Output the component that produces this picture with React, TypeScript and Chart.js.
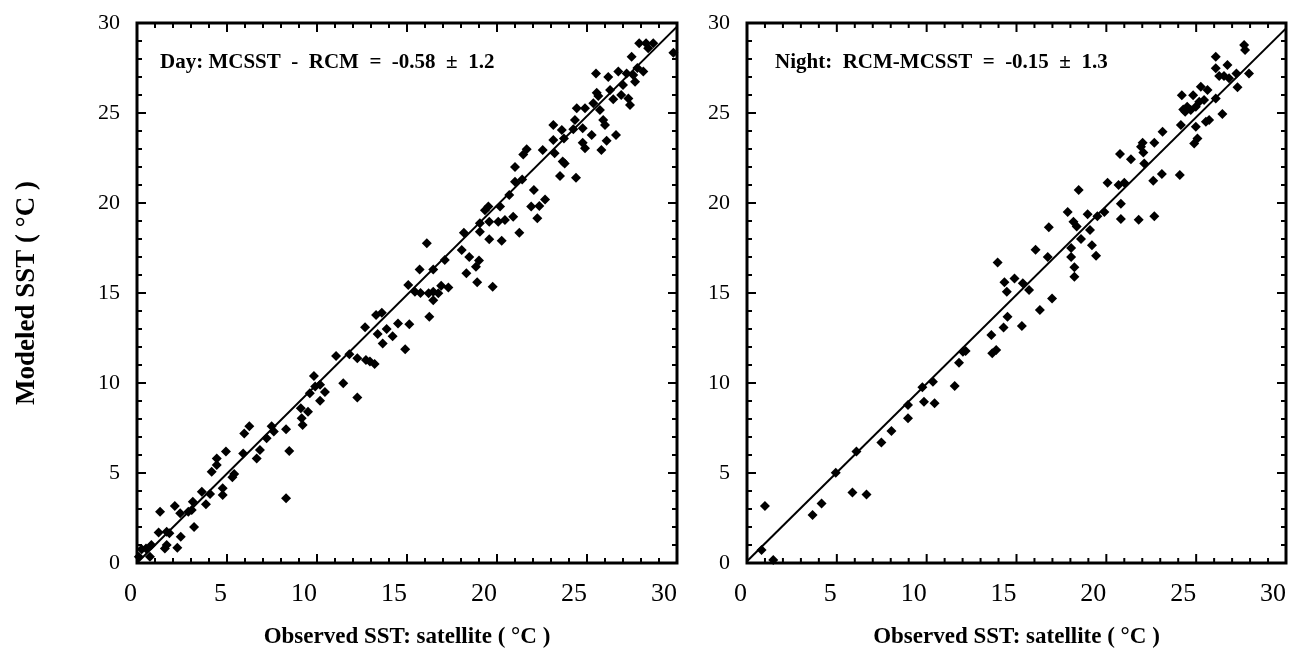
import React, { useEffect, useRef } from "react";
import { Chart, registerables } from "chart.js";

Chart.register(...registerables);

// ---------- Data ----------
const dayX = [
  0.1, 0.26, 0.5, 0.72, 0.8, 1.2, 1.28, 1.65, 1.65, 1.55, 1.8, 2.24, 2.1, 2.4, 2.43, 2.85, 3.04, 3.1, 3.17, 3.6,
  3.83, 4.06, 4.15, 4.43, 4.43, 4.76, 4.76, 4.94, 5.3, 5.4, 5.9, 5.96, 6.24, 6.65, 6.83, 7.2, 7.48, 7.6, 8.28, 8.46,
  8.28, 9.1, 9.15, 9.2, 9.5, 9.6, 9.83, 9.9, 10.17, 10.17, 10.44, 11.06, 11.46, 11.8, 12.24, 12.24, 12.67, 12.72, 12.94, 13.2,
  13.28, 13.6, 13.37, 13.65, 13.87, 14.2, 14.5, 14.9, 15.13, 16.24, 16.46,
  15.07, 15.44, 15.7, 15.75, 16.1, 16.2, 16.46, 16.46, 16.74, 16.9, 17.1, 17.3, 18.04, 18.16, 18.46, 18.3, 18.83, 18.9, 19.0,
  19.05, 19.05, 19.33, 19.52, 19.57, 19.57, 19.76, 20.07, 20.17, 20.26, 20.44, 20.68, 20.9, 21.0, 21.0, 21.24, 21.4, 21.46, 21.65,
  21.9, 22.05, 22.24, 22.35, 22.54, 22.67, 23.13, 23.13, 23.2, 23.5, 23.6, 23.65, 23.72, 23.76, 24.24, 24.33, 24.39, 24.76, 24.76,
  24.89, 24.43, 24.89, 25.26, 25.5, 25.35, 25.54, 25.63, 25.72, 25.8, 25.9, 26.0, 26.09, 26.18, 26.28, 26.46, 26.61, 26.74, 26.9,
  27.0, 27.2, 27.39, 27.3, 27.48, 27.57, 27.67, 27.8, 27.9, 28.13, 28.28, 28.4, 28.68, 29.8,
];
const dayY = [
  0.35, 0.76, 0.8, 0.35, 1.0, 1.7, 2.85, 1.74, 1.0, 0.8, 1.65, 0.85, 3.17, 2.76, 1.46, 2.85, 2.94, 3.4, 2.0, 3.96,
  3.26, 3.83, 5.07, 5.44, 5.8, 4.15, 3.78, 6.2, 4.76, 4.94, 6.09, 7.2, 7.6, 5.8, 6.28, 6.93, 7.6, 7.3, 7.43, 6.22,
  3.6, 8.6, 8.04, 7.67, 8.4, 9.43, 10.39, 9.8, 9.9, 9.02, 9.5, 11.5, 9.98, 11.6, 11.37, 9.2, 13.1, 11.28, 11.2, 11.05,
  13.78, 13.9, 12.72, 12.2, 13.0, 12.6, 13.3, 11.87, 13.26, 13.68, 14.6,
  15.44, 15.07, 16.3, 15.0, 17.76, 14.98, 15.07, 16.3, 14.98, 15.4, 16.83, 15.3, 17.39, 18.35, 17.0, 16.1, 16.46, 15.6, 16.8,
  18.4, 18.87, 19.6, 19.8, 18.96, 17.98, 15.35, 18.96, 19.8, 17.9, 19.05, 20.45, 19.24, 21.18, 22.0, 18.35, 21.3, 22.7, 22.98,
  19.8, 20.72, 19.15, 19.83, 22.94, 20.2, 24.33, 23.5, 22.76, 21.5, 24.05, 22.3, 23.59, 22.2, 24.1, 24.61, 21.4, 24.15, 23.35,
  23.04, 25.26, 25.26, 23.78, 27.2, 25.54, 26.13, 25.94, 25.17, 22.94, 24.61, 24.33, 23.46, 27.0, 26.28, 25.76, 23.78, 27.3, 26.0,
  26.56, 27.2, 25.44, 25.8, 28.13, 27.11, 26.74, 27.5, 28.87, 27.3, 28.87, 28.6, 28.87, 28.35,
];

const nightX = [
  0.81, 1.0, 1.46, 3.65, 4.15, 4.94, 5.87, 6.09, 6.65, 7.48, 8.04, 8.96, 8.96, 9.76, 9.85, 10.35, 10.44, 11.56, 11.8, 12.02,
  12.17, 13.6, 13.65, 13.87, 14.28, 14.5, 14.46, 15.3, 15.7, 16.3, 16.98,
  13.95, 14.33, 14.89, 15.35, 16.06, 16.74, 16.8, 17.85, 18.04, 18.04, 18.22, 18.22, 18.17, 18.35, 18.46, 18.59, 18.96, 19.09,
  19.2, 19.43, 19.5, 19.89, 20.07, 20.68, 20.76, 20.81, 20.81, 21.0, 21.37, 21.8, 21.93, 22.02, 22.06, 22.11, 22.61, 22.67, 22.67,
  23.09, 23.13, 24.09, 24.15, 24.2, 24.28, 24.39, 24.5, 24.7, 24.83, 24.89, 24.98, 25.07, 24.98, 25.17, 25.26, 25.44, 25.54, 25.63,
  25.72, 26.09, 26.09, 26.09, 26.28, 26.46, 26.55, 26.74, 26.83, 27.24, 27.3, 27.67, 27.72, 27.94,
];
const nightY = [
  0.72, 3.17, 0.17, 2.67, 3.31, 5.02, 3.91, 6.19, 3.81, 6.69, 7.33, 8.78, 8.04, 9.76, 8.96, 10.07, 8.87, 9.83, 11.13, 11.74,
  11.78, 12.67, 11.65, 11.83, 13.09, 13.68, 15.07, 13.17, 15.17, 14.06, 14.7,
  16.7, 15.6, 15.8, 15.54, 17.4, 17.0, 18.65, 19.5, 17.5, 17.0, 16.43, 15.9, 18.96, 18.7, 20.72, 18.0, 19.37, 18.5,
  17.65, 17.07, 19.26, 19.5, 21.13, 21.0, 22.72, 19.96, 19.11, 21.13, 22.43, 19.07, 23.13, 23.35, 22.8, 22.2, 21.24, 23.35, 19.26,
  21.61, 23.96, 21.56, 24.33, 25.98, 25.2, 25.07, 25.35, 25.17, 25.98, 23.31, 24.24, 23.59, 25.35, 25.63, 26.46, 25.72, 24.52, 26.28,
  24.61, 25.81, 28.13, 27.48, 27.06, 24.94, 27.06, 27.67, 26.93, 27.2, 26.43, 28.78, 28.5, 27.2,
];

const dayFitX = [0, 30];
const dayFitY = [0, 29.8];
const nightFitX = [0, 30];
const nightFitY = [0.1, 29.7];

const axisMin = 0;
const axisMax = 30;
const majorStep = 5;
const minorStep = 1;

const dayNote = "Day: MCSST  -  RCM  =  -0.58  ±  1.2";
const nightNote = "Night:  RCM-MCSST  =  -0.15  ±  1.3";
const xTitle = "Observed SST: satellite ( °C )";
const yTitle = "Modeled SST ( °C )";

const FONT = "'Liberation Serif', 'Times New Roman', serif";

function makeConfig(opts: {
  xs: number[];
  ys: number[];
  fx: number[];
  fy: number[];
  note: string;
  noteDx: number;
  showYTitle: boolean;
  yWidth: number;
  padRight: number;
}) {
  const framePlugin = {
    id: "frameTicks",
    afterDatasetsDraw(chart: any) {
      const { ctx, chartArea, scales } = chart;
      const { left, right, top, bottom } = chartArea;
      ctx.save();
      ctx.strokeStyle = "#000";
      ctx.lineCap = "butt";
      for (let v = axisMin; v <= axisMax; v += minorStep) {
        const major = v % majorStep === 0;
        const len = major ? 9 : 5;
        ctx.lineWidth = 2;
        const px = scales.x.getPixelForValue(v);
        const py = scales.y.getPixelForValue(v);
        ctx.beginPath();
        ctx.moveTo(px, bottom);
        ctx.lineTo(px, bottom - len);
        ctx.moveTo(px, top);
        ctx.lineTo(px, top + len);
        ctx.moveTo(left, py);
        ctx.lineTo(left + len, py);
        ctx.moveTo(right, py);
        ctx.lineTo(right - len, py);
        ctx.stroke();
      }
      ctx.lineWidth = 3;
      ctx.strokeRect(left, top, right - left, bottom - top);
      ctx.fillStyle = "#000";
      ctx.font = `bold 21px ${FONT}`;
      ctx.textBaseline = "middle";
      ctx.textAlign = "left";
      ctx.fillText(opts.note, left + opts.noteDx, top + 40);
      ctx.restore();
    },
  };

  return {
    type: "scatter" as const,
    data: {
      datasets: [
        {
          data: opts.xs.map((x, i) => ({ x, y: opts.ys[i] })),
          pointStyle: "rectRot",
          pointRadius: 5,
          backgroundColor: "#000",
          borderColor: "#000",
          borderWidth: 0,
          clip: false as any,
        },
        {
          type: "line" as const,
          data: opts.fx.map((x, i) => ({ x, y: opts.fy[i] })),
          borderColor: "#000",
          borderWidth: 2,
          pointRadius: 0,
          showLine: true,
          fill: false,
        },
      ],
    },
    options: {
      responsive: false,
      animation: false as const,
      events: [],
      layout: { padding: { top: 23, right: opts.padRight, bottom: 0, left: 0 } },
      plugins: { legend: { display: false }, tooltip: { enabled: false } },
      scales: {
        x: {
          type: "linear" as const,
          min: axisMin,
          max: axisMax,
          grid: { display: false, drawTicks: false },
          border: { display: false },
          ticks: {
            stepSize: majorStep,
            align: "end" as const,
            padding: 16,
            maxRotation: 0,
            autoSkip: false,
            color: "#000",
            font: { family: FONT, size: 26 },
          },
          title: {
            display: true,
            text: xTitle,
            color: "#000",
            font: { family: FONT, size: 23, weight: "bold" as const },
            padding: { top: 0, bottom: 2 },
          },
          afterFit(s: any) {
            s.height = 90;
            s.paddingLeft = 0;
            s.paddingRight = 0;
          },
        },
        y: {
          type: "linear" as const,
          min: axisMin,
          max: axisMax,
          grid: { display: false, drawTicks: false },
          border: { display: false },
          ticks: {
            stepSize: majorStep,
            padding: 17,
            autoSkip: false,
            color: "#000",
            font: { family: FONT, size: 22 },
          },
          title: {
            display: opts.showYTitle,
            text: yTitle,
            color: "#000",
            font: { family: FONT, size: 27, weight: "bold" as const },
            padding: { top: 11, bottom: 0 },
          },
          afterFit(s: any) {
            s.width = opts.yWidth;
            s.paddingTop = 0;
            s.paddingBottom = 0;
          },
        },
      },
    },
    plugins: [framePlugin],
  };
}

function Panel(props: { left: number; width: number; cfg: any }) {
  const ref = useRef<HTMLCanvasElement | null>(null);
  useEffect(() => {
    if (!ref.current) return;
    const chart = new Chart(ref.current, props.cfg);
    return () => chart.destroy();
  }, []);
  return (
    <canvas
      ref={ref}
      width={props.width}
      height={653}
      style={{ position: "absolute", left: props.left, top: 0, width: props.width, height: 653 }}
    />
  );
}

export default function App() {
  const dayCfg = makeConfig({
    xs: dayX,
    ys: dayY,
    fx: dayFitX,
    fy: dayFitY,
    note: dayNote,
    noteDx: 23,
    showYTitle: true,
    yWidth: 137,
    padRight: 13,
  });
  const nightCfg = makeConfig({
    xs: nightX,
    ys: nightY,
    fx: nightFitX,
    fy: nightFitY,
    note: nightNote,
    noteDx: 28,
    showYTitle: false,
    yWidth: 57,
    padRight: 4,
  });
  return (
    <div style={{ position: "absolute", left: 0, top: 0, width: 1291, height: 653, background: "#fff" }}>
      <Panel left={0} width={690} cfg={dayCfg} />
      <Panel left={690} width={601} cfg={nightCfg} />
    </div>
  );
}
